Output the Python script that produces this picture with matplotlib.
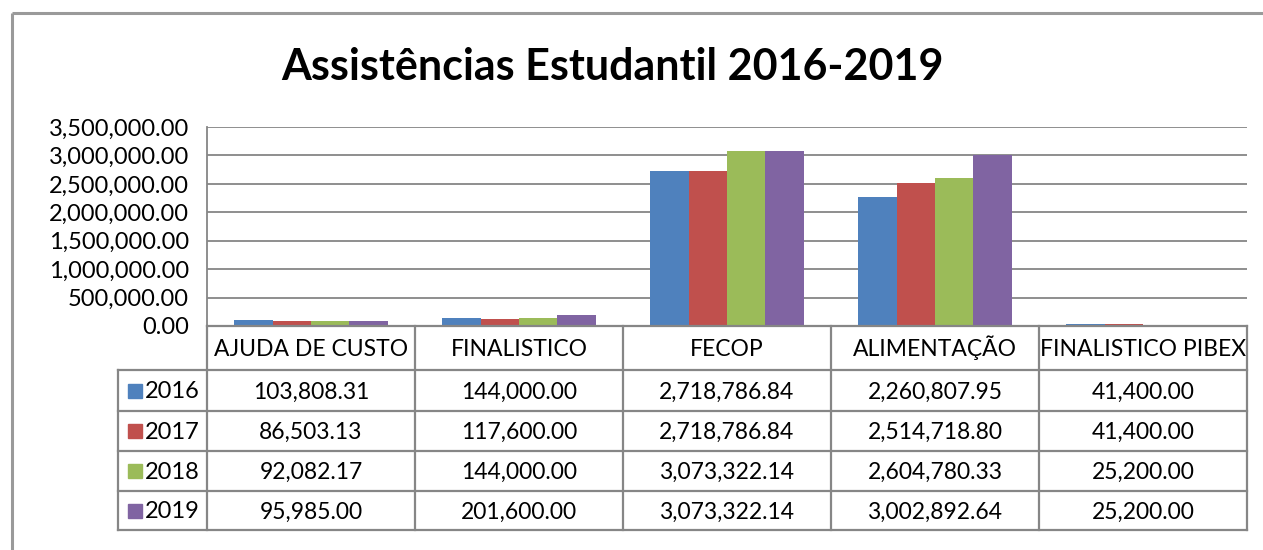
import numpy as np
import matplotlib.pyplot as plt
from matplotlib.lines import Line2D
from matplotlib.patches import Rectangle

categories = ['AJUDA DE CUSTO', 'FINALISTICO', 'FECOP', 'ALIMENTAÇÃO', 'FINALISTICO PIBEX']
years = ['2016', '2017', '2018', '2019']
v2016 = [103808.31, 144000.00, 2718786.84, 2260807.95, 41400.00]
v2017 = [86503.13, 117600.00, 2718786.84, 2514718.80, 41400.00]
v2018 = [92082.17, 144000.00, 3073322.14, 2604780.33, 25200.00]
v2019 = [95985.00, 201600.00, 3073322.14, 3002892.64, 25200.00]
series = [v2016, v2017, v2018, v2019]
colors = ['#4F81BD', '#C0504D', '#9BBB59', '#8064A2']

plt.rcParams['font.family'] = ['Lato', 'DejaVu Sans']
W, H = 1263, 550
fig = plt.figure(figsize=(W / 100, H / 100), dpi=100)

# pixel helpers
def fx(px):
    return px / W

def fy(py):
    return 1 - py / H

ax_l, ax_r, ax_t, ax_b = 207, 1247, 127, 326
ax = fig.add_axes([fx(ax_l), fy(ax_b), fx(ax_r - ax_l), fy(ax_t) - fy(ax_b)])

n = len(categories)
x = np.arange(n)
bw = 0.184
for i, s in enumerate(series):
    ax.bar(x + (i - 1.5) * bw, s, width=bw, color=colors[i], zorder=3)

ax.set_xlim(-0.5, n - 0.5)
ax.set_ylim(0, 3500000)
ax.set_yticks(np.arange(0, 3500001, 500000))
ax.set_yticklabels(['{:,.2f}'.format(v) for v in np.arange(0, 3500001, 500000)], fontsize=17)
ax.tick_params(axis='y', length=0, pad=13)
ax.set_xticks([])
ax.grid(axis='y', color='#868686', linewidth=1.3, zorder=0)
for sp in ['top', 'right', 'bottom']:
    ax.spines[sp].set_visible(False)
ax.spines['left'].set_color('#868686')
ax.spines['left'].set_linewidth(1.3)

# data table under the plot
line_c = '#868686'
lw = 1.6
rows_y = [326, 370, 411, 451, 491, 530]
col_x = [ax_l + i * (ax_r - ax_l) / n for i in range(n + 1)]
leg_l = 118
base_off = 8  # baseline below cell centre, px

def hline(y, x0, x1):
    fig.add_artist(Line2D([fx(x0), fx(x1)], [fy(y), fy(y)], color=line_c, lw=lw))

def vline(xp, y0, y1):
    fig.add_artist(Line2D([fx(xp), fx(xp)], [fy(y0), fy(y1)], color=line_c, lw=lw))

hline(rows_y[0], ax_l, ax_r)
for y in rows_y[1:]:
    hline(y, leg_l, ax_r)
for xp in col_x:
    vline(xp, rows_y[0], rows_y[-1])
vline(leg_l, rows_y[1], rows_y[-1])

for j, cat in enumerate(categories):
    cx = (col_x[j] + col_x[j + 1]) / 2
    cy = (rows_y[0] + rows_y[1]) / 2
    fig.text(fx(cx), fy(cy + base_off), cat, ha='center', va='baseline', fontsize=16.5)
    for i, s in enumerate(series):
        ry = (rows_y[i + 1] + rows_y[i + 2]) / 2
        fig.text(fx(cx), fy(ry + base_off), '{:,.2f}'.format(s[j]), ha='center', va='baseline',
                 fontsize=16.5)

for i, yr in enumerate(years):
    ry = (rows_y[i + 1] + rows_y[i + 2]) / 2
    fig.add_artist(Rectangle((fx(128), fy(ry + 7)), fx(14), fy(ry - 7) - fy(ry + 7),
                             color=colors[i], transform=fig.transFigure))
    fig.text(fx(145), fy(ry + base_off), yr, ha='left', va='baseline', fontsize=17)

# title
fig.text(fx(612), fy(67), 'Assistências Estudantil 2016-2019', ha='center', va='center',
         fontsize=31, fontweight='bold')

# outer chart frame
fig.add_artist(Line2D([fx(12), 1.01], [fy(13), fy(13)], color='#9a9a9a', lw=2.2,
                      solid_capstyle='butt'))
fig.add_artist(Line2D([fx(12), fx(12)], [fy(13), -0.01], color='#9a9a9a', lw=2.2,
                      solid_capstyle='butt'))

fig.savefig('out.png', dpi=100)
